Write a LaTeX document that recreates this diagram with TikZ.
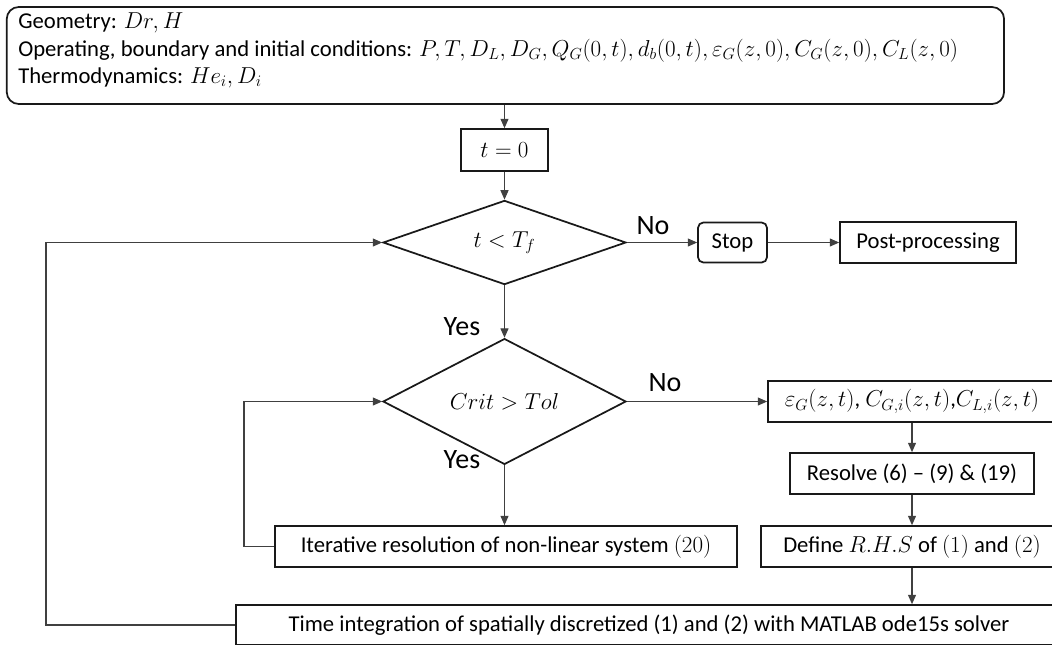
\documentclass[tikz,border=0pt]{standalone}
\usepackage{fontspec}
\setmainfont{Carlito}
\usetikzlibrary{shapes.geometric,arrows.meta}
\begin{document}
\begin{tikzpicture}[x=0.75pt,y=-0.75pt,
  txt/.style={font=\fontsize{17}{20}\selectfont},
  box/.style={draw=black!90,line width=1.3pt,rectangle,inner sep=0pt,txt},
  dia/.style={draw=black!90,line width=1.3pt,diamond,inner sep=0pt,minimum width=182.25pt,minimum height=44.25pt,txt},
  conn/.style={draw=black!75,line width=0.8pt},
  arr/.style={conn,-{Triangle[length=7pt,width=6pt]}},
  lbl/.style={font=\fontsize{21}{24}\selectfont,inner sep=0pt}
]
\useasboundingbox (0,0) rectangle (1052,644);
\clip (0,0) rectangle (1052,644);
\fill[white] (0,0) rectangle (1052,644);

\node[box,rounded corners=9pt,minimum width=748pt,minimum height=72.75pt] (topbox) at (505.4,55.5) {};
\node[txt,anchor=base west,inner sep=0pt] (g1) at (18,28) {Geometry: $Dr, H$};
\node[txt,anchor=base west,inner sep=0pt] (g2) at (18,56) {Operating, boundary and initial conditions: $P, T, D_L, D_G, Q_G(0,t), d_b(0,t), \varepsilon_G(z,0), C_G(z,0), C_L(z,0)$};
\node[txt,anchor=base west,inner sep=0pt] (g3) at (18,83) {Thermodynamics: $He_i, D_i$};

\node[box,minimum width=65.25pt,minimum height=31.5pt] (t0) at (504.5,150) {$t=0$};
\node[dia] (d1) at (504.5,242.5) {$t<T_f$};
\node[box,rounded corners=4pt,minimum width=51.75pt,minimum height=30pt] (stop) at (732.5,242.5) {Stop};
\node[box,minimum width=132pt,minimum height=30.75pt] (post) at (928,242.5) {Post-processing};

\node[dia] (d2) at (504.5,401.5) {$Crit>Tol$};
\node[box,minimum width=216pt,minimum height=30.75pt] (eps) at (912,401.5) {$\varepsilon_G(z,t)$, $C_{G,i}(z,t)$,$C_{L,i}(z,t)$};
\node[box,minimum width=183pt,minimum height=30.75pt] (res) at (912,473.5) {Resolve (6) – (9) \& (19)};
\node[box,minimum width=226.5pt,minimum height=30.75pt] (def) at (912,546.5) {Define $R.H.S$ of $(1)$ and $(2)$};
\node[box,minimum width=346.5pt,minimum height=30.75pt] (iter) at (506,546.5) {Iterative resolution of non-linear system $(20)$};
\node[box,minimum width=619.5pt,minimum height=30pt] (bot) at (649,625) {Time integration of spatially discretized (1) and (2) with MATLAB ode15s solver};

\coordinate (l1) at (46,0);
\coordinate (l2) at (244,0);

\draw[arr] (topbox.south -| t0) -- (t0);
\draw[arr] (t0) -- (d1);
\draw[arr] (d1.east) -- (stop.west);
\draw[arr] (stop) -- (post);
\draw[arr] (d1.south) -- (d2.north);
\draw[arr] (d2.east) -- (eps.west);
\draw[arr] (eps) -- (res);
\draw[arr] (res) -- (def);
\draw[arr] (def.south) -- (bot.north -| def.south);
\draw[arr] (d2.south) -- (iter.north -| d2.south);
\draw[arr] (iter.west) -- (iter.west -| l2) |- (d2.west);
\draw[arr] (bot.west) -- (bot.west -| l1) |- (d1.west);

\node[lbl] (no1) at (653,226) {No};
\node[lbl] (yes1) at (462,327) {Yes};
\node[lbl] (no2) at (665,383) {No};
\node[lbl] (yes2) at (462,460) {Yes};
\end{tikzpicture}
\end{document}
